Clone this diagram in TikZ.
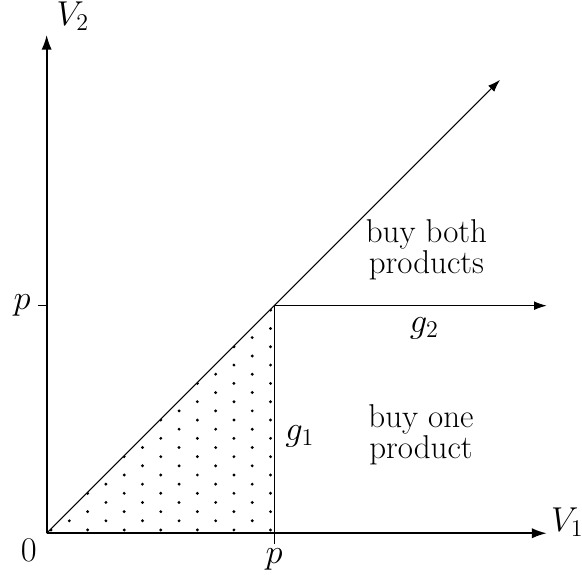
\documentclass[tikz,border=0pt]{standalone}
\usetikzlibrary{arrows.meta}
\begin{document}
\begin{tikzpicture}[font=\fontsize{16.5}{13.5}\selectfont,
  axis/.style={line width=0.9pt, -{Latex[length=2.6mm,width=1.8mm]}},
  thinline/.style={line width=0.5pt},
  thinarrow/.style={line width=0.5pt, -{Latex[length=2.2mm,width=1.5mm]}},
  region/.style={align=center, inner sep=0pt}]
  \useasboundingbox (-0.82,-0.733) rectangle (9.41,9.373);
  \coordinate (O) at (0,0);
  \coordinate (P) at (4,4);
  \coordinate (Px) at (4,0);
  \coordinate (Py) at (0,4);
  \coordinate (xend) at (8.79,0);
  \coordinate (yend) at (0,8.76);
  \coordinate (dend) at (7.97,7.97);
  \coordinate (hend) at (8.79,4);
  % dotted triangle
  \begin{scope}
    \clip (O) -- (P) -- (Px) -- cycle;
    \foreach \j in {0,...,24}
      \foreach \i in {0,...,6}
        \fill ({0.077+0.643*\i+0.3215*mod(\j,2)},{0.058+0.161*\j}) circle (0.8pt);
  \end{scope}
  % lines
  \draw[thinarrow] (O) -- (dend);
  \draw[thinarrow] (P) -- (hend);
  \draw[thinline] (P) -- (Px) -- ++(0,-0.19) coordinate (pxtick);
  \draw[thinline] (Py) -- ++(-0.16,0) coordinate (pytick);
  % axes
  \draw[axis] (O) -- (xend);
  \draw[axis] (O) -- (yend);
  % labels
  \node[anchor=base west, inner sep=0pt] (vone) at ([xshift=0.07cm,yshift=0.03cm]xend) {$V_1$};
  \node[anchor=south west, inner sep=2pt] (vtwo) at ([xshift=0.1cm]yend) {$V_2$};
  \node[left] (py) at (pytick) {$p$};
  \node[below, inner sep=2pt] (px) at (pxtick) {$p$};
  \node[anchor=north east, inner sep=3pt] (zero) at ([xshift=-0.06cm]O) {$0$};
  \node (gtwo) at (6.64,3.6) {$g_2$};
  \node (gone) at (4.45,1.71) {$g_1$};
  \node[region] (both) at (6.675,4.98) {buy both\\products};
  \node[region] (one) at (6.58,1.73) {buy one\\product};
\end{tikzpicture}
\end{document}
